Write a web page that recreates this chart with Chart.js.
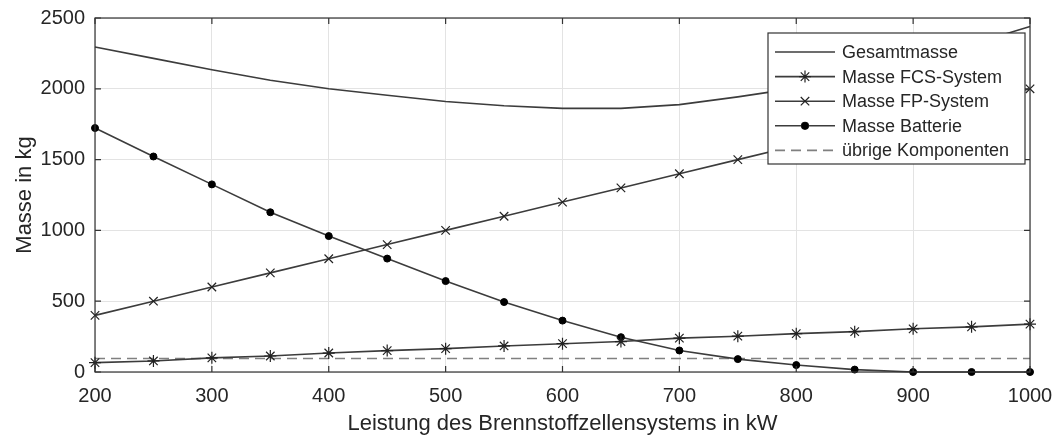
<!DOCTYPE html>
<html>
<head>
<meta charset="utf-8">
<script src="https://cdn.jsdelivr.net/npm/chart.js@4.4.1/dist/chart.umd.min.js"></script>
<style>
  html, body { margin: 0; padding: 0; background: #fff; }
  #wrap { width: 1054px; height: 437px; }
</style>
</head>
<body>
<div id="wrap"><canvas id="myChart" width="1054" height="437"></canvas></div>
<script>
// Leistung in kW
const leistung = [200, 250, 300, 350, 400, 450, 500, 550, 600, 650, 700, 750, 800, 850, 900, 950, 1000];

// Massen in kg
const gesamtmasse = [2295, 2215, 2135, 2060, 2000, 1955, 1910, 1880, 1862, 1862, 1888, 1943, 2005, 2095, 2200, 2315, 2440];
const masseFCS = [66, 78, 100, 113, 134, 151, 165, 184, 200, 215, 239, 253, 271, 285, 305, 319, 338];
const masseFP = [400, 500, 600, 700, 800, 900, 1000, 1100, 1200, 1300, 1400, 1500, 1600, 1700, 1800, 1900, 2000];
const masseBatterie = [1723, 1522, 1325, 1128, 960, 801, 642, 494, 363, 246, 152, 91, 49, 17, 0, 0, 0];
const uebrigeKomponenten = [95, 95, 95, 95, 95, 95, 95, 95, 95, 95, 95, 95, 95, 95, 95, 95, 95];

const labels = ['Gesamtmasse', 'Masse FCS-System', 'Masse FP-System', 'Masse Batterie', 'übrige Komponenten'];
const xTicks = [200, 300, 400, 500, 600, 700, 800, 900, 1000];
const yTicks = [0, 500, 1000, 1500, 2000, 2500];

const FONT = '"Liberation Sans", Arial, sans-serif';
const TEXT = '#262626';
const LINE = '#3c3c3c';

function points(values) {
    return leistung.map((x, i) => ({ x: x, y: values[i] }));
}

// Rahmen, Ticks nach innen und Legende wie im MATLAB-Plot
const boxPlugin = {
    id: 'boxPlugin',
    afterDraw(chart) {
        const ctx = chart.ctx;
        const a = chart.chartArea;
        const xs = chart.scales.x;
        const ys = chart.scales.y;
        ctx.save();
        ctx.strokeStyle = '#333';
        ctx.lineWidth = 1.2;
        ctx.strokeRect(a.left, a.top, a.right - a.left, a.bottom - a.top);

        ctx.beginPath();
        xTicks.forEach(v => {
            const px = xs.getPixelForValue(v);
            ctx.moveTo(px, a.bottom); ctx.lineTo(px, a.bottom - 6);
            ctx.moveTo(px, a.top); ctx.lineTo(px, a.top + 6);
        });
        yTicks.forEach(v => {
            const py = ys.getPixelForValue(v);
            ctx.moveTo(a.left, py); ctx.lineTo(a.left + 6, py);
            ctx.moveTo(a.right, py); ctx.lineTo(a.right - 6, py);
        });
        ctx.stroke();

        // Legende
        const lx = 768, ly = 33, lw = 257, lh = 131;
        ctx.fillStyle = '#fff';
        ctx.fillRect(lx, ly, lw, lh);
        ctx.strokeStyle = '#333';
        ctx.lineWidth = 1.2;
        ctx.strokeRect(lx, ly, lw, lh);

        ctx.font = '18px ' + FONT;
        ctx.textBaseline = 'middle';
        ctx.textAlign = 'left';
        chart.data.datasets.forEach((ds, i) => {
            const y = ly + 19 + i * 24.6;
            ctx.save();
            ctx.strokeStyle = ds.borderColor;
            ctx.lineWidth = ds.borderWidth;
            ctx.setLineDash(ds.borderDash || []);
            ctx.beginPath();
            ctx.moveTo(lx + 7, y);
            ctx.lineTo(lx + 67, y);
            ctx.stroke();
            ctx.restore();
            if (ds.pointRadius > 0) {
                ctx.strokeStyle = '#222';
                Chart.helpers.drawPoint(ctx, {
                    pointStyle: ds.pointStyle,
                    radius: ds.pointRadius,
                    borderWidth: ds.pointBorderWidth || 1.2
                }, lx + 37, y);
                if (ds.pointStyle === 'circle') {
                    ctx.fillStyle = '#000';
                    ctx.beginPath();
                    ctx.arc(lx + 37, y, ds.pointRadius, 0, Math.PI * 2);
                    ctx.fill();
                }
            }
            ctx.fillStyle = TEXT;
            ctx.fillText(ds.label, lx + 74, y + 1);
        });
        ctx.restore();
    }
};

const ctx = document.getElementById('myChart').getContext('2d');

new Chart(ctx, {
    type: 'line',
    data: {
        datasets: [
            {
                label: labels[0],
                data: points(gesamtmasse),
                borderColor: LINE,
                borderWidth: 1.6,
                pointRadius: 0,
                tension: 0
            },
            {
                label: labels[1],
                data: points(masseFCS),
                borderColor: LINE,
                borderWidth: 1.6,
                pointStyle: 'star',
                pointRadius: 6,
                pointBorderColor: '#222',
                pointBorderWidth: 1.2,
                tension: 0
            },
            {
                label: labels[2],
                data: points(masseFP),
                borderColor: LINE,
                borderWidth: 1.6,
                pointStyle: 'crossRot',
                pointRadius: 6,
                pointBorderColor: '#222',
                pointBorderWidth: 1.2,
                tension: 0
            },
            {
                label: labels[3],
                data: points(masseBatterie),
                borderColor: LINE,
                borderWidth: 1.6,
                pointStyle: 'circle',
                pointRadius: 3.5,
                pointBackgroundColor: '#000',
                pointBorderColor: '#000',
                pointBorderWidth: 1,
                tension: 0
            },
            {
                label: labels[4],
                data: points(uebrigeKomponenten),
                borderColor: '#808080',
                borderWidth: 1.6,
                borderDash: [10, 6],
                pointRadius: 0,
                tension: 0
            }
        ]
    },
    options: {
        responsive: false,
        animation: false,
        clip: false,
        layout: { padding: { left: 0, right: 24, top: 18, bottom: 0 } },
        plugins: {
            legend: { display: false },
            tooltip: { enabled: false }
        },
        elements: { point: { hoverRadius: 0 } },
        scales: {
            x: {
                type: 'linear',
                min: 200,
                max: 1000,
                afterFit: s => { s.height = 65; s.paddingLeft = 0; s.paddingRight = 0; },
                afterBuildTicks: s => { s.ticks = xTicks.map(v => ({ value: v })); },
                grid: { color: '#e3e3e3', lineWidth: 1, drawTicks: false },
                border: { display: false },
                ticks: {
                    padding: 12,
                    color: TEXT,
                    font: { size: 20, family: FONT },
                    maxRotation: 0,
                    callback: v => String(v)
                },
                title: {
                    display: true,
                    text: 'Leistung des Brennstoffzellensystems in kW',
                    color: TEXT,
                    font: { size: 22, family: FONT },
                    padding: { top: 0, bottom: 0 }
                }
            },
            y: {
                min: 0,
                max: 2500,
                afterFit: s => { s.width = 95; s.paddingTop = 0; s.paddingBottom = 0; },
                afterBuildTicks: s => { s.ticks = yTicks.map(v => ({ value: v })); },
                grid: { color: '#e3e3e3', lineWidth: 1, drawTicks: false },
                border: { display: false },
                ticks: {
                    padding: 10,
                    color: TEXT,
                    font: { size: 20, family: FONT },
                    callback: v => String(v)
                },
                title: {
                    display: true,
                    text: 'Masse in kg',
                    color: TEXT,
                    font: { size: 22, family: FONT },
                    padding: { top: 12, bottom: 0 }
                }
            }
        }
    },
    plugins: [boxPlugin]
});
</script>
</body>
</html>
